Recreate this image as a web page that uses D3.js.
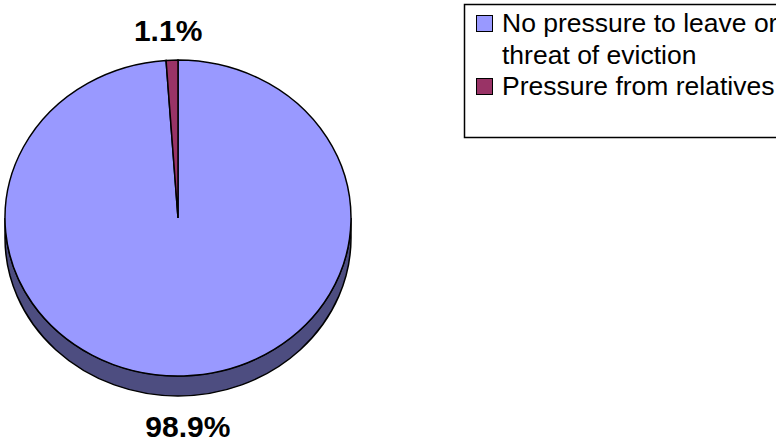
<!DOCTYPE html>
<html>
<head>
<meta charset="utf-8">
<script src="https://cdn.jsdelivr.net/npm/d3@7"></script>
<style>
  html, body { margin: 0; padding: 0; background: #fff; overflow: hidden; }
  svg { display: block; font-family: "Liberation Sans", Arial, sans-serif; }
</style>
</head>
<body>
<svg id="chart" width="776" height="442"></svg>
<script>
// data
const categories = ['No pressure to leave or threat of eviction', 'Pressure from relatives'];
const legendLines = [['No pressure to leave or', 'threat of eviction'], ['Pressure from relatives']];
const values = [98.9, 1.1];
const labels = ['98.9%', '1.1%'];

const colors = ['#9999ff', '#993366'];
const sideColor = '#4d4d80';

const cx = 178, cy = 218;
const rx = 173, ry = 158;
const depth = 20;

const svg = d3.select('#chart');

const pie = d3.pie().sort(null).value(d => d);
const arcs = pie(values);

// side of the pie (front half, all of it belongs to the big slice)
svg.append('path')
  .attr('d', `M${cx + rx},${cy} A${rx},${ry} 0 0 1 ${cx - rx},${cy} L${cx - rx},${cy + depth} A${rx},${ry} 0 0 0 ${cx + rx},${cy + depth} Z`)
  .attr('fill', sideColor)
  .attr('stroke', '#000')
  .attr('stroke-width', 1.5);

// top face: circle arcs squashed to an ellipse
const arc = d3.arc().innerRadius(0).outerRadius(rx);
const face = svg.append('g')
  .attr('transform', `translate(${cx},${cy}) scale(1,${ry / rx})`);

face.selectAll('path')
  .data(arcs)
  .enter()
  .append('path')
  .attr('d', arc)
  .attr('fill', (d, i) => colors[i])
  .attr('stroke', '#000')
  .attr('stroke-width', 1.5)
  .attr('vector-effect', 'non-scaling-stroke');

// percent labels
const labelGap = 30;
svg.append('g')
  .selectAll('text')
  .data(arcs)
  .enter()
  .append('text')
  .attr('x', d => {
    const mid = (d.startAngle + d.endAngle) / 2;
    return cx + rx * 1.65 * Math.sin(mid);
  })
  .attr('y', d => {
    const mid = (d.startAngle + d.endAngle) / 2;
    return Math.cos(mid) > 0 ? cy - ry - labelGap : cy + ry + depth + labelGap;
  })
  .attr('text-anchor', 'middle')
  .attr('dominant-baseline', 'central')
  .style('font-weight', 'bold')
  .style('font-size', '30px')
  .attr('fill', '#000')
  .text((d, i) => labels[i]);

// legend
const legend = svg.append('g').attr('class', 'legend');
legend.append('rect')
  .attr('x', 464.5)
  .attr('y', 4.5)
  .attr('width', 330)
  .attr('height', 133)
  .attr('fill', '#fff')
  .attr('stroke', '#000')
  .attr('stroke-width', 1.5);

const lineH = 31.5;
let line = 0;
categories.forEach((c, i) => {
  const base = 32 + line * lineH;
  legend.append('rect')
    .attr('x', 476.5)
    .attr('y', base - 16.5)
    .attr('width', 16)
    .attr('height', 16)
    .attr('fill', colors[i])
    .attr('stroke', '#000')
    .attr('stroke-width', 1);
  const t = legend.append('text')
    .attr('x', 502)
    .attr('y', base)
    .style('font-size', '26.5px')
    .attr('fill', '#000');
  legendLines[i].forEach((l, j) => {
    t.append('tspan')
      .attr('x', 502)
      .attr('y', base + j * lineH)
      .text(l);
  });
  line += legendLines[i].length;
});
</script>
</body>
</html>
